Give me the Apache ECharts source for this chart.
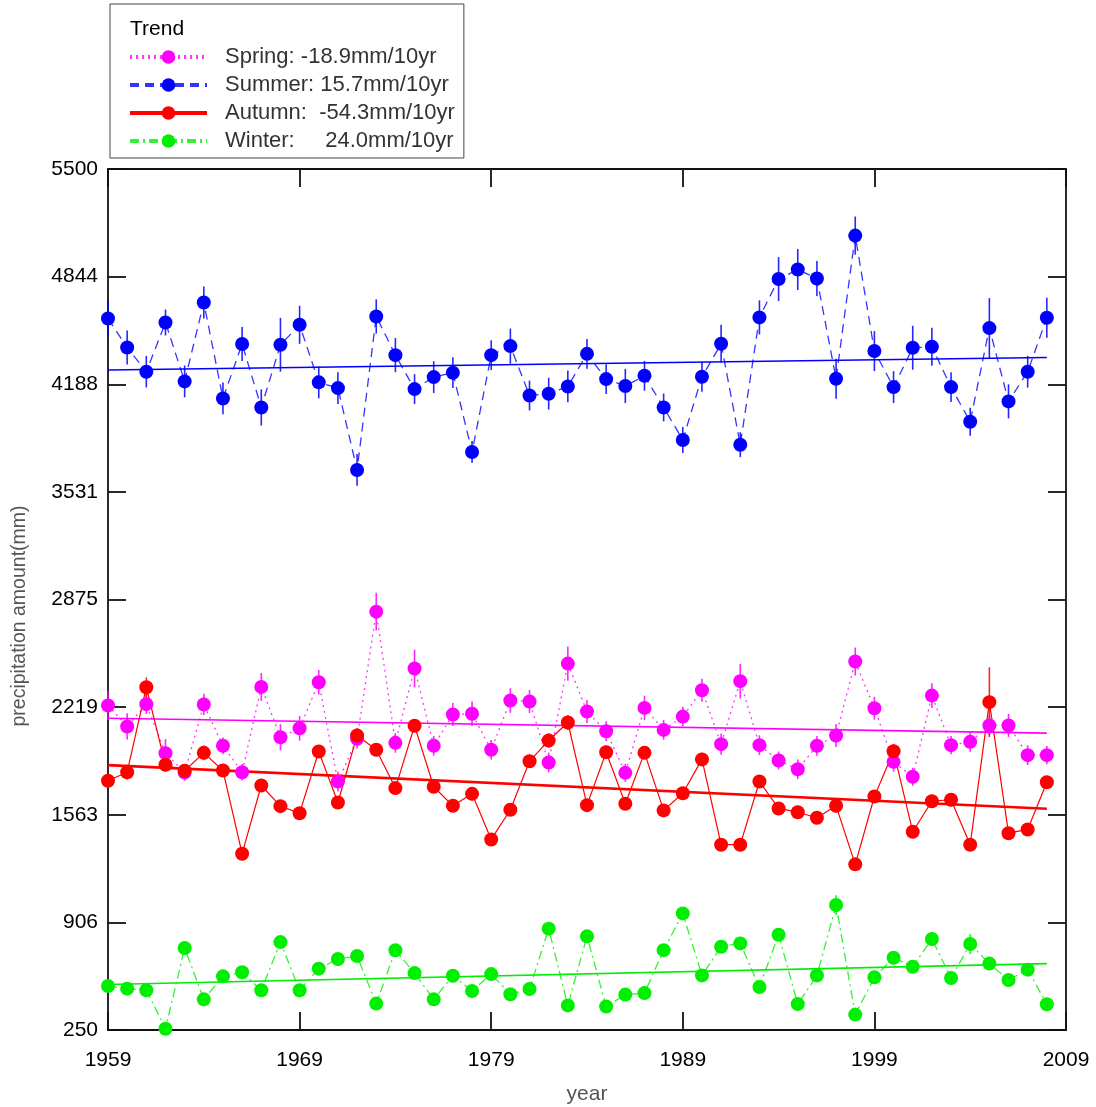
<!DOCTYPE html>
<html>
<head>
<meta charset="utf-8">
<script src="https://cdn.jsdelivr.net/npm/echarts@6/dist/echarts.min.js"></script>
<style>
html,body{margin:0;padding:0;background:#fff;}
#chart{width:1096px;height:1107px;}
</style>
</head>
<body>
<div id="chart"></div>
<script>
// ---- data ----
const years = [1959,1960,1961,1962,1963,1964,1965,1966,1967,1968,1969,1970,1971,1972,1973,1974,1975,1976,1977,1978,1979,1980,1981,1982,1983,1984,1985,1986,1987,1988,1989,1990,1991,1992,1993,1994,1995,1996,1997,1998,1999,2000,2001,2002,2003,2004,2005,2006,2007,2008];

const spring = [2229,2101,2237,1938,1820,2235,1983,1822,2342,2035,2090,2370,1765,2026,2801,2001,2454,1983,2174,2178,1959,2259,2253,1881,2484,2192,2072,1818,2214,2080,2161,2322,1993,2377,1987,1893,1840,1983,2046,2497,2212,1885,1794,2289,1987,2007,2107,2107,1926,1926];
const summer = [4588,4412,4264,4564,4205,4686,4101,4433,4046,4428,4550,4199,4164,3665,4601,4365,4158,4231,4258,3774,4365,4420,4119,4130,4174,4373,4219,4177,4239,4046,3848,4233,4434,3819,4595,4829,4887,4832,4221,5094,4390,4170,4410,4416,4170,3959,4530,4083,4264,4593];
const autumn = [1770,1822,2340,1867,1831,1940,1832,1325,1741,1615,1572,1948,1637,2046,1959,1725,2105,1733,1617,1690,1412,1593,1889,2015,2125,1621,1944,1630,1940,1589,1694,1900,1380,1380,1765,1601,1578,1544,1617,1260,1674,1950,1459,1645,1654,1380,2249,1450,1473,1761];
const winter = [518,502,492,258,750,437,577,602,492,786,492,624,683,701,411,736,597,437,581,488,591,468,500,868,400,821,393,466,475,737,961,583,758,778,512,831,408,583,1012,344,571,691,636,805,567,774,655,555,618,407];

// error-bar half widths (mm)
const springErr = [90,80,60,85,50,65,50,50,85,80,75,75,60,60,115,60,115,60,70,75,60,75,70,60,105,70,60,55,75,60,60,70,65,105,60,55,60,60,70,85,70,60,55,75,55,60,60,70,60,55];
const summerErr = [110,104,96,79,97,97,97,104,110,164,116,97,97,97,104,104,91,97,94,67,91,107,91,97,97,91,91,104,91,85,79,91,116,76,104,134,125,107,122,116,122,97,134,116,91,85,183,104,97,122];
const autumnErr = [40,45,60,40,40,45,40,30,40,35,30,40,35,45,40,30,40,35,30,40,30,35,40,45,45,35,40,35,40,30,35,40,30,30,40,35,35,35,40,35,40,45,35,40,40,35,213,35,35,40];
const winterErr = [25,25,25,20,30,20,25,25,25,30,20,25,25,25,20,30,25,20,25,20,25,20,25,35,20,30,20,20,20,30,35,25,30,30,25,35,25,25,60,25,25,30,25,35,25,60,30,25,30,25];

// trend line end values at first and last year
const trendYears = [1959, 2008];
const springTrend = [2151, 2060];
const summerTrend = [4274, 4351];
const autumnTrend = [1865, 1599];
const winterTrend = [527, 655];

const seriesNames = ['Spring: -18.9mm/10yr', 'Summer: 15.7mm/10yr', 'Autumn:  -54.3mm/10yr', 'Winter:     24.0mm/10yr'];
const legendTitle = 'Trend';
const xTickLabels = ['1959','1969','1979','1989','1999','2009'];
const yTickLabels = ['250','906','1563','2219','2875','3531','4188','4844','5500'];
const xName = 'year';
const yName = 'precipitation amount(mm)';

// ---- styles ----
const colors = ['#ff00ff', '#0000ff', '#ff0000', '#00ee00'];
const dashes = [[2,4], [9,6], 'solid', [9,4,2,4]];
const trendWidths = [1.6, 1.6, 2.6, 1.6];
const values = [spring, summer, autumn, winter];
const errs = [springErr, summerErr, autumnErr, winterErr];
const trends = [springTrend, summerTrend, autumnTrend, winterTrend];

const FONT = 'Liberation Sans, Arial, sans-serif';
const chart = echarts.init(document.getElementById('chart'));

const xMin = 1959, xMax = 2009, xStep = 10;
const yMin = 250, yMax = 5500, yStep = (5500 - 250) / 8;

function yLabel(v) {
  const i = Math.round((v - yMin) / yStep);
  return yTickLabels[i] !== undefined ? yTickLabels[i] : '';
}
function xLabel(v) {
  const i = Math.round((v - xMin) / xStep);
  return xTickLabels[i] !== undefined ? xTickLabels[i] : '';
}

const series = [];
values.forEach((vals, k) => {
  // error bars
  series.push({
    type: 'custom',
    silent: true,
    z: 2,
    data: years.map((y, i) => [y, vals[i] - errs[k][i], vals[i] + errs[k][i]]),
    renderItem: function (params, api) {
      const p1 = api.coord([api.value(0), api.value(1)]);
      const p2 = api.coord([api.value(0), api.value(2)]);
      return { type: 'line', shape: { x1: p1[0], y1: p1[1], x2: p2[0], y2: p2[1] },
               style: { stroke: colors[k], lineWidth: 1.6, opacity: 0.85 } };
    }
  });
});
values.forEach((vals, k) => {
  series.push({
    name: seriesNames[k],
    type: 'line',
    z: 3,
    data: years.map((y, i) => [y, vals[i]]),
    symbol: 'circle',
    symbolSize: 14,
    showAllSymbol: true,
    itemStyle: { color: colors[k] },
    lineStyle: { color: colors[k], width: k === 2 ? 1.2 : 1.3, type: dashes[k], opacity: k === 2 ? 1 : 0.8 },
    emphasis: { disabled: true }
  });
  series.push({
    name: 'trend' + k,
    type: 'line',
    z: 3,
    data: trendYears.map((y, i) => [y, trends[k][i]]),
    symbol: 'none',
    lineStyle: { color: colors[k], width: trendWidths[k], type: 'solid' },
    emphasis: { disabled: true }
  });
});

const axisLine = { lineStyle: { color: '#111', width: 1.8 } };
const tickStyle = { inside: true, length: 18, lineStyle: { color: '#111', width: 1.8 } };

chart.setOption({
  animation: false,
  backgroundColor: '#fff',
  title: {
    text: legendTitle,
    left: 125, top: 14,
    textStyle: { fontFamily: FONT, fontSize: 21, fontWeight: 'normal', color: '#000' }
  },
  legend: {
    data: seriesNames,
    orient: 'vertical',
    left: 110, top: 4,
    padding: [42, 9, 6, 18],
    itemGap: 6,
    itemWidth: 77,
    itemHeight: 17,
    borderColor: '#444',
    borderWidth: 1,
    selectedMode: false,
    lineStyle: { width: 4 },
    textStyle: { fontFamily: FONT, fontSize: 22, color: '#333', lineHeight: 22, padding: [0, 0, 0, 13] }
  },
  graphic: [{
    type: 'text',
    x: 20, y: 616,
    rotation: Math.PI / 2,
    style: { text: yName, align: 'center', verticalAlign: 'middle',
             font: '19.5px ' + FONT, fill: '#555' }
  }],
  grid: { left: 108, right: 30, top: 169, bottom: 77, containLabel: false, outerBoundsMode: 'none' },
  xAxis: [{
    type: 'value', min: xMin, max: xMax, interval: xStep,
    name: xName, nameLocation: 'middle', nameGap: 54,
    nameTextStyle: { fontFamily: FONT, fontSize: 21, color: '#555' },
    axisLine: axisLine, axisTick: tickStyle, splitLine: { show: false },
    axisLabel: { formatter: xLabel, fontFamily: FONT, fontSize: 21, color: '#000', margin: 20 }
  }, {
    type: 'value', min: xMin, max: xMax, interval: xStep, position: 'top',
    axisLine: axisLine, axisTick: tickStyle, splitLine: { show: false },
    axisLabel: { show: false }
  }],
  yAxis: [{
    type: 'value', min: yMin, max: yMax, interval: yStep,
    axisLine: axisLine, axisTick: tickStyle, splitLine: { show: false },
    axisLabel: { formatter: yLabel, fontFamily: FONT, fontSize: 21, color: '#000', margin: 10 }
  }, {
    type: 'value', min: yMin, max: yMax, interval: yStep, position: 'right',
    axisLine: axisLine, axisTick: tickStyle, splitLine: { show: false },
    axisLabel: { show: false }
  }],
  series: series
});
</script>
</body>
</html>
